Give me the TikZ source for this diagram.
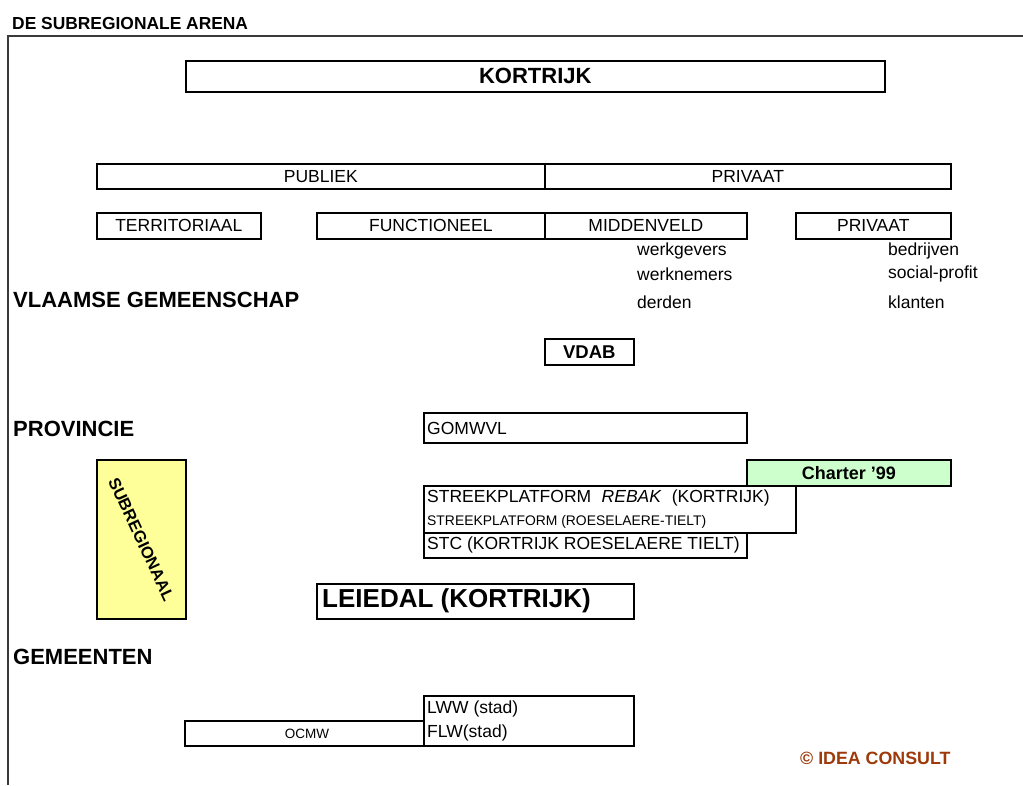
\documentclass[tikz,border=0pt]{standalone}
\usepackage{fontspec}
\setmainfont{Liberation Sans}
\usepackage{xcolor}
\definecolor{cLine}{HTML}{000000}
\definecolor{cFrame}{HTML}{3A3A3A}
\definecolor{cYellow}{HTML}{FFFF99}
\definecolor{cGreen}{HTML}{CCFFCC}
\definecolor{cBrand}{HTML}{9E3A0A}
\usepackage{tikz}
\usetikzlibrary{positioning}
\tikzset{
  node-box/.style={draw=cLine,line width=1.6pt,anchor=north west,inner sep=0pt,
    font=\fontsize{17.5}{20}\selectfont},
  node-fill-sub/.style={fill=cYellow},
  node-fill-charter/.style={fill=cGreen},
  txt-item/.style={anchor=west,inner sep=0pt,font=\fontsize{17.5}{20}\selectfont},
  txt-small/.style={anchor=west,inner sep=0pt,font=\fontsize{13.9}{16}\selectfont},
  txt-level/.style={anchor=west,inner sep=0pt,font=\fontsize{22}{26}\selectfont\bfseries},
  txt-title/.style={anchor=west,inner sep=0pt,font=\fontsize{17.4}{20}\selectfont\bfseries},
  frame-line/.style={draw=cFrame,line width=1.3pt},
}

\begin{document}
\begin{tikzpicture}[x=1pt,y=-1pt]
  \useasboundingbox (0,0) rectangle (1023,785);
  % kader
  \coordinate (fr-right) at (1023,36);
  \coordinate (fr-corner) at (8,36);
  \coordinate (fr-bottom) at (8,785);
  \draw[frame-line] (fr-right) -- (fr-corner) -- (fr-bottom);
  \node[txt-title] (title) at (12,24) {DE SUBREGIONALE ARENA};

  % bovenste rij
  \node[node-box,minimum width=699pt,minimum height=31pt,
    font=\fontsize{22}{26}\selectfont\bfseries] (kortrijk) at (185,60) {KORTRIJK};
  \node[node-box,minimum width=448pt,minimum height=25pt] (publiek) at (96,163) {PUBLIEK};
  \node[node-box,minimum width=406pt,minimum height=25pt] (privaat) at (544,163) {PRIVAAT};
  \node[node-box,minimum width=164pt,minimum height=26pt] (territ) at (96,212) {TERRITORIAAL};
  \node[node-box,minimum width=228pt,minimum height=26pt] (functio) at (316,212) {FUNCTIONEEL};
  \node[node-box,minimum width=202pt,minimum height=26pt] (midden) at (544,212) {MIDDENVELD};
  \node[node-box,minimum width=155pt,minimum height=26pt] (privaat2) at (795,212) {PRIVAAT};

  % actoren
  \node[txt-item] (werkg) at (637,251) {werkgevers};
  \node[txt-item] (werkn) at (637,274) {werknemers};
  \node[txt-item] (derden) at (637,302) {derden};
  \node[txt-item] (bedr) at (888,251) {bedrijven};
  \node[txt-item] (social) at (888,274) {social-profit};
  \node[txt-item] (klant) at (888,302) {klanten};

  % niveaus
  \node[txt-level] (vlaams) at (13,300) {VLAAMSE GEMEENSCHAP};
  \node[txt-level] (prov) at (13,429) {PROVINCIE};
  \node[txt-level] (gem) at (13,657) {GEMEENTEN};

  \node[node-box,minimum width=89pt,minimum height=26pt,
    font=\fontsize{18.5}{21}\selectfont\bfseries] (vdab) at (544,338) {VDAB};
  \node[node-box,minimum width=323pt,minimum height=30pt] (gomwvl) at (423,412) {};
  \node[txt-item] (gomwvl-t) at (427,428) {GOMWVL};
  \node[node-box,node-fill-charter,minimum width=204pt,minimum height=26pt,
    font=\fontsize{18}{21}\selectfont\bfseries] (charter) at (746,459) {Charter '99};
  \node[node-box,minimum width=372pt,minimum height=47pt] (streek) at (423,485) {};
  \node[txt-item] (streek-a) at (427,498) {STREEKPLATFORM\hspace{0.6em}\textit{REBAK}\hspace{0.3em} (KORTRIJK)};
  \node[txt-small] (streek-b) at (427,522) {STREEKPLATFORM (ROESELAERE-TIELT)};
  \node[node-box,minimum width=323pt,minimum height=25pt] (stc) at (423,532) {};
  \node[txt-item] (stc-t) at (427,545) {STC (KORTRIJK ROESELAERE TIELT)};

  % subregionaal
  \node[node-box,node-fill-sub,minimum width=89pt,minimum height=159pt] (subreg) at (96,459) {};
  \node[rotate=-65,inner sep=0pt,font=\fontsize{16.5}{19}\selectfont\bfseries]
    (subreg-t) at (subreg.center) {SUBREGIONAAL};
  \node[node-box,minimum width=317pt,minimum height=35pt] (leiedal) at (316,583) {};
  \node[anchor=west,inner sep=0pt,font=\fontsize{26}{30}\selectfont\bfseries]
    (leiedal-t) at (322,601) {LEIEDAL (KORTRIJK)};

  % gemeenten
  \node[node-box,minimum width=239pt,minimum height=25pt] (ocmw) at (184,720) {};
  \node[inner sep=0pt,font=\fontsize{13.5}{16}\selectfont] (ocmw-t) at (307,734) {OCMW};
  \node[node-box,minimum width=210pt,minimum height=50pt] (stad) at (423,695) {};
  \node[txt-item] (lww) at (427,709) {LWW (stad)};
  \node[txt-item] (flw) at (427,733) {FLW(stad)};

  \node[anchor=west,inner sep=0pt,text=cBrand,font=\fontsize{17.8}{21}\selectfont\bfseries]
    (idea) at (800,758) {© IDEA CONSULT};
\end{tikzpicture}
\end{document}
